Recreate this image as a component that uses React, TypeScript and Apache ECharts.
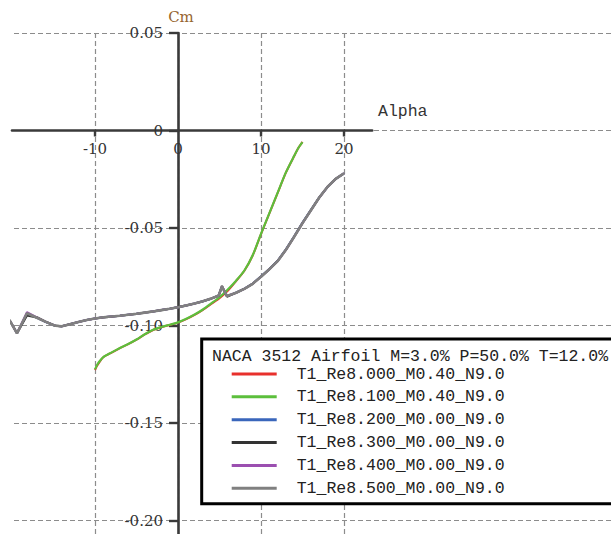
import React, { useEffect, useRef } from 'react';
import * as echarts from 'echarts';

const legendTitle = 'NACA 3512 Airfoil M=3.0% P=50.0% T=12.0%';
const xAxisName = 'Alpha';
const yAxisName = 'Cm';
const seriesNames = [
  'T1_Re8.000_M0.40_N9.0',
  'T1_Re8.100_M0.40_N9.0',
  'T1_Re8.200_M0.00_N9.0',
  'T1_Re8.300_M0.00_N9.0',
  'T1_Re8.400_M0.00_N9.0',
  'T1_Re8.500_M0.00_N9.0',
];
const seriesColors = ['#e8302c', '#5cbf3c', '#3a66bb', '#333333', '#9b4fb0', '#808080'];

const xLabelValues = [-10, 0, 10, 20];
const xTickValues = [-10, 10, 20];

// M0.40 polars
const alphaM040 = [-10, -9.75, -9.5, -9, -8, -7, -6, -5, -4, -3, -2, -1, 0, 1, 2, 3, 4, 5, 6, 7, 8, 9, 10, 11, 12, 13, 14, 14.5, 15];
const cmRe8000 = [-0.1228, -0.1206, -0.119, -0.1163, -0.1139, -0.1116, -0.1096, -0.1073, -0.1046, -0.1023, -0.1009, -0.0997, -0.0985, -0.0967, -0.0946, -0.092, -0.089, -0.086, -0.0822, -0.0772, -0.0719, -0.0641, -0.0531, -0.0426, -0.0321, -0.0216, -0.0131, -0.009, -0.0058];
const cmRe8100 = [-0.1225, -0.1203, -0.1186, -0.1162, -0.1138, -0.1115, -0.1095, -0.1072, -0.1045, -0.1022, -0.1008, -0.0996, -0.0984, -0.0966, -0.0944, -0.0918, -0.0887, -0.0855, -0.0815, -0.077, -0.0718, -0.064, -0.053, -0.0425, -0.032, -0.0215, -0.013, -0.009, -0.006];

// M0.00 polars
const alphaM000 = [-20.3, -19.4, -18.2, -17, -16, -14.8, -14, -13, -12, -11, -10, -9, -8, -7, -6, -5, -4, -3, -2, -1, 0, 1, 2, 3, 4, 4.9, 5.3, 5.9, 6.5, 7, 8, 9, 10, 11, 12, 13, 14, 15, 16, 17, 18, 19, 20];
const cmRe8200 = [-0.0972, -0.104, -0.0938, -0.0961, -0.0981, -0.1001, -0.1004, -0.0993, -0.0982, -0.0972, -0.0964, -0.0958, -0.0954, -0.095, -0.0945, -0.094, -0.0934, -0.0928, -0.0921, -0.0914, -0.0906, -0.0897, -0.0887, -0.0876, -0.0862, -0.0846, -0.0802, -0.0849, -0.084, -0.0831, -0.0811, -0.0785, -0.0748, -0.071, -0.0668, -0.0609, -0.0542, -0.0472, -0.0408, -0.0344, -0.029, -0.0248, -0.022];
const cmRe8300 = [-0.0972, -0.104, -0.0948, -0.0958, -0.0979, -0.1001, -0.1004, -0.0993, -0.0982, -0.0972, -0.0964, -0.0958, -0.0954, -0.095, -0.0945, -0.094, -0.0934, -0.0928, -0.0921, -0.0914, -0.0906, -0.0897, -0.0887, -0.0876, -0.0862, -0.0847, -0.0797, -0.0852, -0.0841, -0.0832, -0.0812, -0.0786, -0.075, -0.0712, -0.067, -0.0612, -0.0545, -0.0475, -0.041, -0.0345, -0.029, -0.0248, -0.022];
const cmRe8400 = [-0.0972, -0.104, -0.0932, -0.0959, -0.098, -0.1001, -0.1004, -0.0993, -0.0982, -0.0972, -0.0964, -0.0958, -0.0954, -0.095, -0.0945, -0.094, -0.0934, -0.0928, -0.0921, -0.0914, -0.0906, -0.0897, -0.0887, -0.0876, -0.0862, -0.0846, -0.08, -0.0848, -0.084, -0.0832, -0.0812, -0.0786, -0.075, -0.0712, -0.067, -0.0612, -0.0545, -0.0475, -0.041, -0.0345, -0.029, -0.0248, -0.022];
const cmRe8500 = [-0.0972, -0.104, -0.0937, -0.096, -0.098, -0.1001, -0.1004, -0.0993, -0.0982, -0.0972, -0.0964, -0.0958, -0.0954, -0.095, -0.0945, -0.094, -0.0934, -0.0928, -0.0921, -0.0914, -0.0906, -0.0897, -0.0887, -0.0876, -0.0862, -0.0846, -0.0801, -0.0849, -0.084, -0.0832, -0.0812, -0.0786, -0.075, -0.0712, -0.067, -0.0612, -0.0545, -0.0475, -0.041, -0.0345, -0.029, -0.0248, -0.022];

export default function App() {
  const ref = useRef<HTMLDivElement>(null);

  useEffect(() => {
    if (!ref.current) return;
    const chart = echarts.init(ref.current, null, { renderer: 'svg' });
    const pairs = (a: number[], c: number[]) => a.map((x, i) => [x, c[i]]);
    const dashed = { color: '#8c8c8c', width: 1.2, type: [5, 3] };
    const serif = 'DejaVu Serif';
    const mono = 'Liberation Mono';
    const seriesData = [
      pairs(alphaM040, cmRe8000),
      pairs(alphaM040, cmRe8100),
      pairs(alphaM000, cmRe8200),
      pairs(alphaM000, cmRe8300),
      pairs(alphaM000, cmRe8400),
      pairs(alphaM000, cmRe8500),
    ];
    const widths = [2, 2.2, 2, 2.2, 2, 2.6];
    const smoothing = [0.25, 0.25, false, false, false, false];

    // grid geometry: x -20..23.4 over 360.2px, y -0.25..0.05 over 585px
    const gridLeft = 12;
    const gridTop = 33;
    const gridW = 360.2;
    const gridH = 585;
    const xMin = -20;
    const xMax = 23.4;
    const yMin = -0.25;
    const yMax = 0.05;
    const pxPerX = gridW / (xMax - xMin);
    const zeroX = gridLeft + (0 - xMin) * pxPerX;
    const zeroY = gridTop + ((yMax - 0) / (yMax - yMin)) * gridH;
    const vMin = -10;
    const vMax = 20;

    const option: any = {
      animation: false,
      backgroundColor: '#ffffff',
      title: [
        {
          text: legendTitle,
          left: 212,
          top: 348.5,
          padding: 0,
          textStyle: { fontFamily: mono, fontSize: 16.5, fontWeight: 'normal', color: '#222', lineHeight: 15 },
        },
        {
          text: xAxisName,
          left: 378,
          top: 103,
          padding: 0,
          textStyle: { fontFamily: mono, fontSize: 16.5, fontWeight: 'normal', color: '#333', lineHeight: 16 },
        },
      ],
      legend: {
        orient: 'vertical',
        left: 201.7,
        top: 339,
        padding: [25, 140, 5.4, 30],
        itemWidth: 45,
        itemHeight: 3,
        itemGap: 2.86,
        icon: 'rect',
        backgroundColor: '#ffffff',
        borderColor: '#000000',
        borderWidth: 3,
        borderRadius: 0,
        selectedMode: false,
        textStyle: { fontFamily: mono, fontSize: 16.5, color: '#222', lineHeight: 20, padding: [0, 0, 0, 15] },
        data: seriesNames,
      },
      grid: [
        { left: gridLeft, top: gridTop, width: gridW, height: gridH, containLabel: false, outerBoundsMode: 'none' },
        { left: 14, top: gridTop, width: 597, height: gridH, containLabel: false, outerBoundsMode: 'none' },
        {
          left: zeroX + vMin * pxPerX,
          top: gridTop,
          width: (vMax - vMin) * pxPerX,
          height: gridH,
          containLabel: false,
          outerBoundsMode: 'none',
        },
      ],
      xAxis: [
        {
          type: 'value',
          gridIndex: 0,
          min: xMin,
          max: xMax,
          interval: 10,
          position: 'bottom',
          offset: -(gridTop + gridH - zeroY),
          axisLine: { onZero: false, lineStyle: { color: '#3a3a3a', width: 2.6 } },
          axisTick: { show: true, customValues: xTickValues, length: 6, lineStyle: { color: '#3a3a3a', width: 2.4 } },
          axisLabel: {
            customValues: xLabelValues,
            margin: 11,
            fontFamily: serif,
            fontSize: 15,
            color: '#333',
            formatter: (v: number) => (xLabelValues.includes(Math.round(v * 10) / 10) ? String(Math.round(v)) : ''),
          },
          splitLine: { show: false },
        },
        { type: 'value', gridIndex: 1, show: false, min: 0, max: 1 },
        {
          type: 'value',
          gridIndex: 2,
          min: vMin,
          max: vMax,
          interval: 10,
          axisLine: { show: false },
          axisTick: { show: false },
          axisLabel: { show: false },
          splitLine: { show: true, lineStyle: dashed },
        },
      ],
      yAxis: [
        {
          type: 'value',
          gridIndex: 0,
          min: yMin,
          max: yMax,
          interval: 0.05,
          position: 'left',
          offset: -(zeroX - gridLeft),
          name: yAxisName,
          nameLocation: 'end',
          nameGap: 9,
          nameTextStyle: { fontFamily: serif, fontSize: 15, color: '#96642e', padding: [0, 0, 0, 6] },
          axisLine: { onZero: false, lineStyle: { color: '#3a3a3a', width: 2.6 } },
          axisTick: { show: true, length: 9, lineStyle: { color: '#3a3a3a', width: 2.4 } },
          axisLabel: {
            margin: 15,
            showMinLabel: false,
            fontFamily: serif,
            fontSize: 15,
            color: '#333',
            formatter: (v: number) => (v < -0.225 ? '' : Math.abs(v) < 1e-9 ? '0' : v.toFixed(2)),
          },
          splitLine: { show: false },
        },
        {
          type: 'value',
          gridIndex: 1,
          min: yMin,
          max: yMax,
          interval: 0.05,
          axisLine: { show: false },
          axisTick: { show: false },
          axisLabel: { show: false },
          splitLine: { show: true, lineStyle: dashed },
        },
        {
          type: 'value',
          gridIndex: 2,
          show: false,
          min: 0,
          max: 1,
        },
      ],
      series: seriesNames.map((name, i) => ({
        type: 'line',
        name,
        xAxisIndex: 0,
        yAxisIndex: 0,
        data: seriesData[i],
        showSymbol: false,
        symbol: 'none',
        smooth: smoothing[i],
        clip: false,
        color: seriesColors[i],
        itemStyle: { color: seriesColors[i] },
        lineStyle: { color: seriesColors[i], width: widths[i] },
      })),
    };
    chart.setOption(option);
    return () => chart.dispose();
  }, []);

  return (
    <div
      ref={ref}
      style={{ position: 'absolute', left: 0, top: 0, width: 611, height: 534, background: '#fff' }}
    />
  );
}
